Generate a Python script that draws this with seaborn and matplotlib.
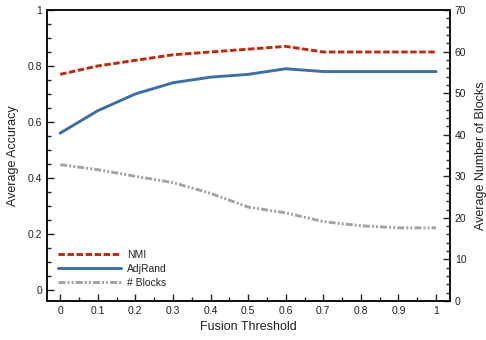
import matplotlib
matplotlib.use("Agg")
import matplotlib.pyplot as plt
import seaborn as sns
import pandas as pd
from matplotlib.ticker import MultipleLocator

thresholds = [0.0, 0.1, 0.2, 0.3, 0.4, 0.5, 0.6, 0.7, 0.8, 0.9, 1.0]
nmi = [0.77, 0.80, 0.82, 0.84, 0.85, 0.86, 0.87, 0.85, 0.85, 0.85, 0.85]
adjrand = [0.56, 0.64, 0.70, 0.74, 0.76, 0.77, 0.79, 0.78, 0.78, 0.78, 0.78]
blocks = [32.8, 31.6, 30.0, 28.5, 25.9, 22.6, 21.2, 19.1, 18.1, 17.6, 17.6]
xtick_labels = ["0", "0.1", "0.2", "0.3", "0.4", "0.5", "0.6", "0.7", "0.8", "0.9", "1"]

sns.set_theme(style="ticks")
plt.rcParams['font.family'] = ['Liberation Sans', 'DejaVu Sans']

df = pd.DataFrame({"t": thresholds, "NMI": nmi, "AdjRand": adjrand, "Blocks": blocks})

fig = plt.figure(figsize=(4.86, 3.4), dpi=100)
ax = fig.add_axes([47/486, 1 - 301/340, (450 - 47)/486, (301 - 10)/340])
ax2 = ax.twinx()

red = "#c4280c"
blue = "#3d6fa6"
gray = "#a3a3a3"
lw = 2.1

sns.lineplot(data=df, x="t", y="NMI", ax=ax, color=red, lw=lw, label="NMI")
sns.lineplot(data=df, x="t", y="AdjRand", ax=ax, color=blue, lw=lw, label="AdjRand")
sns.lineplot(data=df, x="t", y="Blocks", ax=ax2, color=gray, lw=lw, label="# Blocks")
ax.lines[0].set_dashes([2.2, 0.9])
ax2.lines[0].set_dashes([2.4, 0.7, 0.7, 0.7, 0.7, 0.7])

ax.set_xlim(-0.035, 1.037)
ax.set_ylim(-0.04, 1.0)
ax2.set_ylim(0, 70)

ax.xaxis.set_minor_locator(MultipleLocator(0.05))
ax.yaxis.set_minor_locator(MultipleLocator(0.05))
ax2.yaxis.set_minor_locator(MultipleLocator(2))

ax.set_xticks(thresholds)
ax.set_xticklabels(xtick_labels)
ax.set_yticks([0, 0.2, 0.4, 0.6, 0.8, 1.0])
ax.set_yticklabels(["0", "0.2", "0.4", "0.6", "0.8", "1"])
ax2.set_yticks([0, 10, 20, 30, 40, 50, 60, 70])

for a in (ax, ax2):
    a.tick_params(which="both", direction="in", labelsize=7.5, colors="#222222", width=1)
    a.tick_params(which="major", length=5)
    a.tick_params(which="minor", length=3)
    for s in a.spines.values():
        s.set_visible(True)
        s.set_linewidth(1.3)
        s.set_color("#111111")
ax.tick_params(axis="x", which="both", top=False)

ax.set_xlabel("Fusion Threshold", fontsize=9, color="#222222", labelpad=4)
ax.set_ylabel("Average Accuracy", fontsize=9, color="#222222", labelpad=6)
ax2.set_ylabel("Average Number of Blocks", fontsize=9, color="#222222", labelpad=6)

h1, l1 = ax.get_legend_handles_labels()
h2, l2 = ax2.get_legend_handles_labels()
if ax2.get_legend():
    ax2.get_legend().remove()
leg = ax.legend(h1 + h2, l1 + l2, loc="lower left", frameon=False, fontsize=7.5,
                handlelength=6.0, handletextpad=0.6, labelspacing=0.4,
                bbox_to_anchor=(0.005, 0.012))

fig.savefig("out.png", dpi=100)
